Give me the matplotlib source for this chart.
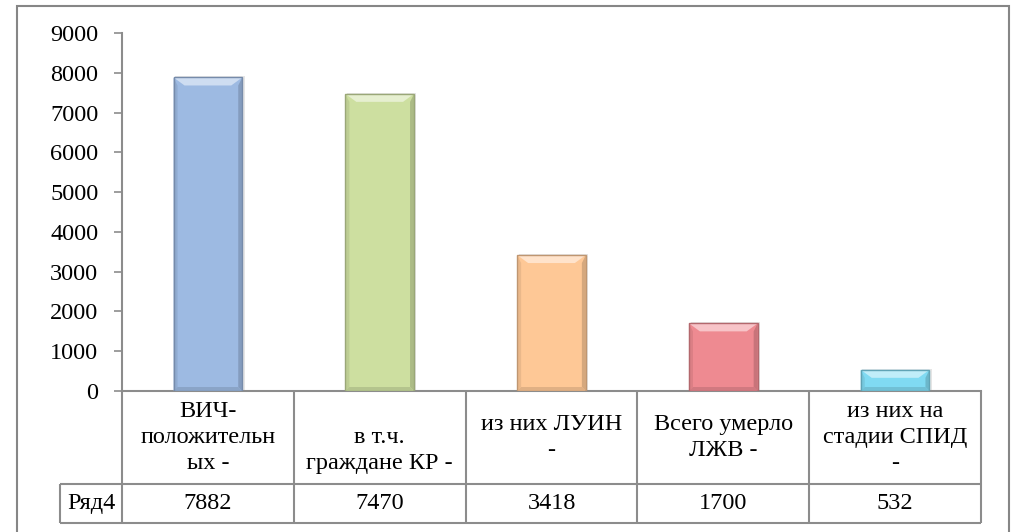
import numpy as np
import matplotlib.pyplot as plt
from matplotlib.patches import Rectangle, Polygon
from matplotlib.transforms import blended_transform_factory
from matplotlib.colors import to_rgb

plt.rcParams['font.family'] = ['Liberation Serif', 'DejaVu Serif']

categories = ["ВИЧ-\nположительн\nых -",
              "\nв т.ч.\nграждане КР -",
              "из них ЛУИН\n-",
              "Всего умерло\nЛЖВ -",
              "из них на\nстадии СПИД\n-"]
values = [7882, 7470, 3418, 1700, 532]
series_name = "Ряд4"
bar_colors = ['#9dbae2', '#cddfa0', '#fec896', '#ee8a91', '#80daf2']
yticks = np.arange(0, 9001, 1000)

W, H = 1016, 532
fig = plt.figure(figsize=(W / 100, H / 100), dpi=100)

# plot area in pixel terms
px_left, px_right, px_top, px_bottom = 122, 981, 33, 391
ax = fig.add_axes([px_left / W, 1 - px_bottom / H,
                   (px_right - px_left) / W, (px_bottom - px_top) / H])

n = len(values)
x = np.arange(n)
bw = 0.4
ax.set_xlim(-0.5, n - 0.5)
ax.set_ylim(0, 9000)

def mix(c, other, t):
    c = np.array(to_rgb(c))
    return tuple(c * (1 - t) + np.array(other) * t)

# bevel sizes converted from pixels to data units
col_px = (px_right - px_left) / n
unit_px = 9000 / (px_bottom - px_top)
bx_top = 11 / col_px
bx_side = 4 / col_px
by_top = 8 * unit_px
by_bot = 4 * unit_px

for xi, v, c in zip(x, values, bar_colors):
    x0, x1 = xi - bw / 2, xi + bw / 2
    # soft shadow
    ax.add_patch(Rectangle((x0 + 0.01, 0), bw + 0.004, v + 30, facecolor='#000000',
                           alpha=0.10, edgecolor='none', zorder=1))
    ax.add_patch(Rectangle((x0, 0), bw, v, facecolor=c, edgecolor='none', zorder=2))
    dy = min(by_top, v * 0.45)
    # left / right side strips
    ax.add_patch(Polygon([(x0, v), (x0 + bx_side, v - dy), (x0 + bx_side, by_bot), (x0, 0)],
                         closed=True, facecolor=mix(c, (0, 0, 0), 0.08),
                         edgecolor='none', zorder=3))
    ax.add_patch(Polygon([(x1, v), (x1 - bx_side, v - dy), (x1 - bx_side, by_bot), (x1, 0)],
                         closed=True, facecolor=mix(c, (0, 0, 0), 0.16),
                         edgecolor='none', zorder=3))
    # bottom strip
    ax.add_patch(Polygon([(x0, 0), (x1, 0), (x1 - bx_side, by_bot), (x0 + bx_side, by_bot)],
                         closed=True, facecolor=mix(c, (0, 0, 0), 0.12),
                         edgecolor='none', zorder=3))
    # top bevel (light)
    ax.add_patch(Polygon([(x0, v), (x1, v), (x1 - bx_top, v - dy), (x0 + bx_top, v - dy)],
                         closed=True, facecolor=mix(c, (1, 1, 1), 0.5),
                         edgecolor='none', zorder=3))
    ax.add_patch(Rectangle((x0, 0), bw, v, facecolor='none',
                           edgecolor=mix(c, (0, 0, 0), 0.25), lw=1.0, zorder=4))

grey = '#8c8c8c'
ax.set_yticks(yticks)
ax.set_yticklabels([str(t) for t in yticks])
ax.tick_params(axis='y', direction='out', length=6, width=1.2, color=grey,
               labelsize=17.5, pad=11)
ax.set_xticks([])
for s in ['top', 'right']:
    ax.spines[s].set_visible(False)
for s in ['left', 'bottom']:
    ax.spines[s].set_color(grey)
    ax.spines[s].set_linewidth(1.5)

# data table under the axis
tr = blended_transform_factory(ax.transData, ax.transAxes)
ah = px_bottom - px_top
row1 = -(484 - px_bottom) / ah
row2 = -(523 - px_bottom) / ah
left_cell = -0.5 - (px_left - 60) / col_px
lk = dict(color=grey, lw=1.5, transform=tr, clip_on=False, solid_capstyle='butt')

ax.plot([-0.5, n - 0.5], [row1, row1], **lk)
ax.plot([left_cell, n - 0.5], [row2, row2], **lk)
ax.plot([left_cell, -0.5], [row1, row1], **lk)
ax.plot([left_cell, left_cell], [row1, row2], **lk)
for b in np.arange(-0.5, n, 1.0):
    ax.plot([b, b], [0, row2], **lk)

for xi, cat, v in zip(x, categories, values):
    ax.text(xi, row1 / 2, cat, transform=tr, ha='center', va='center',
            fontsize=17.5, linespacing=1.3, clip_on=False)
    ax.text(xi, (row1 + row2) / 2, str(v), transform=tr, ha='center',
            va='center', fontsize=17.5, clip_on=False)
ax.text((left_cell - 0.5) / 2, (row1 + row2) / 2, series_name, transform=tr,
        ha='center', va='center', fontsize=17.5, clip_on=False)

# outer chart border (bottom edge lies outside the picture)
fig.patches.append(Rectangle((17 / W, -0.05), (1009 - 17) / W, 1.05 - 6 / H,
                             transform=fig.transFigure, fill=False,
                             edgecolor='#868686', lw=1.5))

fig.savefig('out.png', dpi=100)
